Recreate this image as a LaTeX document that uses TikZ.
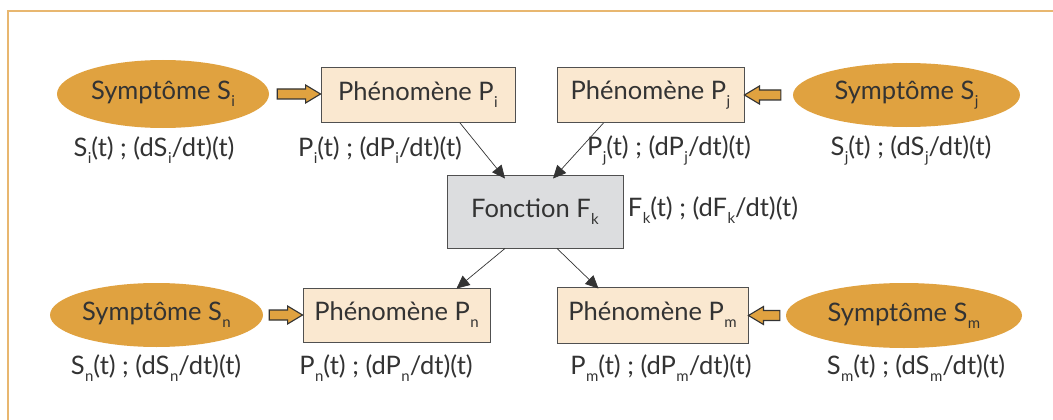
\documentclass[tikz,border=0pt]{standalone}
\usepackage{fontspec}
\setmainfont{Lato}
\usetikzlibrary{shapes.geometric,arrows.meta,calc}
\definecolor{symfill}{RGB}{224,162,64}
\definecolor{phefill}{RGB}{250,232,208}
\definecolor{fonfill}{RGB}{220,221,223}
\definecolor{txt}{RGB}{51,51,51}
\definecolor{framec}{RGB}{232,183,112}
\definecolor{edge}{RGB}{80,80,80}
\newcommand\lowsub[1]{\hspace{0.5pt}\raisebox{-7pt}{\fontsize{15}{15}\selectfont #1}}
\newcommand\fatarrow[2]{%
  \draw[fatstyle] let \p1=(#1), \p2=(#2), \n1={ifthenelse(\x2>\x1,1,-1)} in
  (\x1,\y1+5pt) -- (\x2-\n1*15pt,\y1+5pt) -- (\x2-\n1*15pt,\y1+9pt) -- (\x2,\y1)
  -- (\x2-\n1*15pt,\y1-9pt) -- (\x2-\n1*15pt,\y1-5pt) -- (\x1,\y1-5pt) -- cycle;}
\tikzset{
  bigfont/.style={font=\fontsize{25.5}{25.5}\selectfont},
  sym/.style={ellipse, fill=symfill, inner sep=0pt, text=txt, bigfont},
  phe/.style={rectangle, fill=phefill, draw=edge, line width=0.9pt, inner sep=0pt, text=txt, bigfont},
  fon/.style={rectangle, fill=fonfill, draw=edge, line width=0.9pt, inner sep=0pt, text=txt, bigfont},
  lab/.style={text=txt, inner sep=0pt, bigfont},
  fatstyle/.style={fill=symfill, draw=txt, line width=1.1pt, line join=miter},
  conn/.style={draw=txt, line width=0.7pt, -{Triangle[length=13pt,width=12pt]}},
}
\begin{document}
\begin{tikzpicture}[x=1pt,y=-1pt]
\useasboundingbox (0,0) rectangle (1053,420);
% frame
\draw[framec, line width=1.5pt] (8,420) -- (8,11) -- (1053,11);
% symptom ellipses
\node[sym, minimum width=212pt, minimum height=68pt] (Si) at (163,94) {Symptôme S\lowsub{i}};
\node[sym, minimum width=227pt, minimum height=64pt] (Sj) at (906.5,95) {Symptôme S\lowsub{j}};
\node[sym, minimum width=213pt, minimum height=64pt] (Sn) at (156.5,315) {Symptôme S\lowsub{n}};
\node[sym, minimum width=236pt, minimum height=65pt] (Sm) at (904,315.5) {Symptôme S\lowsub{m}};
% phenomenon boxes
\node[phe, minimum width=194pt, minimum height=55pt] (Pi) at (418,95) {Phénomène P\lowsub{i}};
\node[phe, minimum width=187pt, minimum height=55pt] (Pj) at (650.5,95) {Phénomène P\lowsub{j}};
\node[phe, minimum width=187pt, minimum height=54pt] (Pn) at (396.5,315) {Phénomène P\lowsub{n}};
\node[phe, minimum width=191pt, minimum height=56pt] (Pm) at (652.5,315) {Phénomène P\lowsub{m}};
% function box
\node[fon, minimum width=176pt, minimum height=73pt] (Fk) at (535,211.5) {Fonction F\lowsub{k}};
% labels
\node[lab] (lSi) at (154,150) {S\lowsub{i}(t) ; (dS\lowsub{i}/dt)(t)};
\node[lab] (lPi) at (380,150) {P\lowsub{i}(t) ; (dP\lowsub{i}/dt)(t)};
\node[lab] (lPj) at (669,150) {P\lowsub{j}(t) ; (dP\lowsub{j}/dt)(t)};
\node[lab] (lSj) at (911,150) {S\lowsub{j}(t) ; (dS\lowsub{j}/dt)(t)};
\node[lab] (lFk) at (713,210) {F\lowsub{k}(t) ; (dF\lowsub{k}/dt)(t)};
\node[lab] (lSn) at (156,368) {S\lowsub{n}(t) ; (dS\lowsub{n}/dt)(t)};
\node[lab] (lPn) at (386,368) {P\lowsub{n}(t) ; (dP\lowsub{n}/dt)(t)};
\node[lab] (lPm) at (661,368) {P\lowsub{m}(t) ; (dP\lowsub{m}/dt)(t)};
\node[lab] (lSm) at (916,368) {S\lowsub{m}(t) ; (dS\lowsub{m}/dt)(t)};
% block arrows
\coordinate (aSi) at ([xshift=8pt]Si.east);
\coordinate (aSj) at ([xshift=-12pt]Sj.west);
\coordinate (aSn) at ([xshift=6pt]Sn.east);
\coordinate (aSm) at ([xshift=-6pt]Sm.west);
\fatarrow{aSi}{Pi.west}
\fatarrow{aSj}{Pj.east}
\fatarrow{aSn}{Pn.west}
\fatarrow{aSm}{Pm.east}
% thin connectors
\draw[conn] ([xshift=42pt]Pi.south) -- ([xshift=-30pt,yshift=-4pt]Fk.north);
\draw[conn] ([xshift=-47pt]Pj.south) -- ([xshift=18pt,yshift=-4pt]Fk.north);
\draw[conn] ([xshift=-30pt]Fk.south) -- ([xshift=60pt,yshift=-1pt]Pn.north);
\draw[conn] ([xshift=22pt]Fk.south) -- ([xshift=-54pt,yshift=-2pt]Pm.north);
\end{tikzpicture}
\end{document}
